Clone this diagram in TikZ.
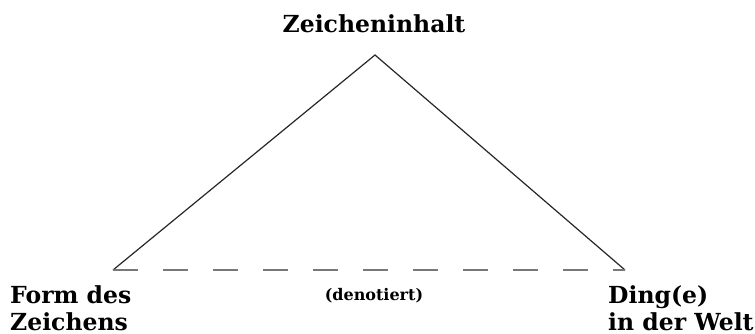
\documentclass[tikz,border=0pt]{standalone}
\usepackage{fontspec}
\setmainfont{DejaVu Serif}
\usetikzlibrary{positioning}
\definecolor{DashGray}{RGB}{120,120,120}
\tikzset{
  lbl/.style={font=\fontsize{23.5}{27}\selectfont\bfseries,inner sep=0pt,align=left},
  small/.style={font=\fontsize{16}{18}\selectfont\bfseries,inner sep=0pt},
  side/.style={draw=black!85,line width=1.2pt},
  denot/.style={draw=DashGray,line width=1.8pt,dash pattern=on 25pt off 25pt},
}

\begin{document}
\begin{tikzpicture}[x=1pt,y=-1pt]
\useasboundingbox (0,0) rectangle (755,333);
\coordinate (top) at (375,55);
\coordinate (left) at (113,270);
\coordinate (right) at (625,270);
\draw[side] (left)--(top)--(right);
\draw[denot] (left)--(right);
\node[lbl,anchor=base] (inhalt) at (374,32) {Zeicheninhalt};
\node[lbl,anchor=base west] (form) at (10,330) {Form des\\Zeichens};
\node[lbl,anchor=base west] (ding) at (608,330) {Ding(e)\\in der Welt};
\node[small,anchor=base] (denot) at (374,300) {(denotiert)};
\end{tikzpicture}
\end{document}
